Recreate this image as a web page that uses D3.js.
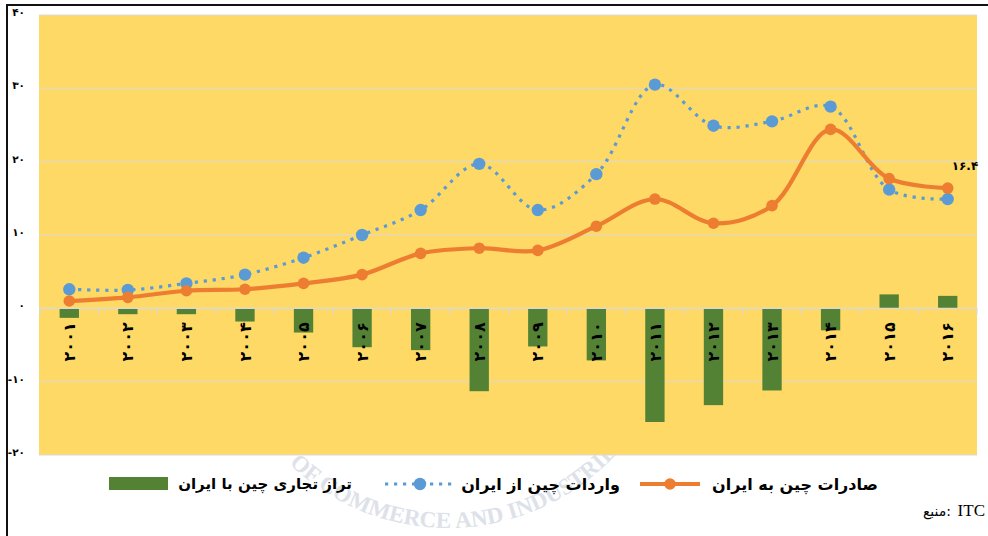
<!DOCTYPE html>
<html>
<head>
<meta charset="utf-8">
<script src="https://cdn.jsdelivr.net/npm/d3@7"></script>
<style>
  body { margin: 0; background: #fff; }
  svg { display: block; font-family: "DejaVu Sans", sans-serif; }
</style>
</head>
<body>
<svg id="chart" width="988" height="536"></svg>
<script>
// داده‌ها (میلیارد دلار)
const years = [2001, 2002, 2003, 2004, 2005, 2006, 2007, 2008, 2009, 2010, 2011, 2012, 2013, 2014, 2015, 2016];
const exportsToIran = [1.0, 1.5, 2.4, 2.6, 3.4, 4.6, 7.5, 8.2, 7.9, 11.2, 14.9, 11.6, 14.0, 24.4, 17.7, 16.4];
const importsFromIran = [2.6, 2.5, 3.4, 4.6, 6.9, 10.0, 13.4, 19.7, 13.4, 18.3, 30.5, 24.9, 25.5, 27.5, 16.2, 14.9];
const tradeBalance = [-1.3, -0.8, -0.8, -1.8, -3.3, -5.3, -5.7, -11.3, -5.2, -7.1, -15.5, -13.2, -11.2, -3.0, 1.9, 1.7];
const yTicks = [-20, -10, 0, 10, 20, 30, 40];
const seriesNames = ["صادرات چین به ایران", "واردات چین از ایران", "تراز تجاری چین با ایران"];
const lastLabel = "۱۶.۴";

// تبدیل ارقام به فارسی
const fa = s => String(s).replace(/\d/g, d => "۰۱۲۳۴۵۶۷۸۹"[d]);

const svg = d3.select("#chart");
const mLeft = 40, mRight = 977, mTop = 15, mBottom = 455;

// واترمارک کم‌رنگ پشت نمودار
const wp = d3.path();
wp.arc(448, 300, 228, Math.PI * 0.92, Math.PI * 0.08, true);
svg.append("path").attr("id", "wm").attr("d", wp.toString()).attr("fill", "none");
svg.append("text")
  .attr("fill", "#dde1e9")
  .attr("font-size", 23)
  .attr("font-weight", "bold")
  .attr("font-family", "Liberation Serif, serif")
  .append("textPath")
  .attr("href", "#wm")
  .attr("startOffset", 125)
  .text("OF COMMERCE AND INDUSTRIES");

// قاب
svg.append("line").attr("x1", 6).attr("x2", 988).attr("y1", 5).attr("y2", 5)
  .attr("stroke", "#111").attr("stroke-width", 2);
svg.append("line").attr("x1", 7).attr("x2", 7).attr("y1", 4).attr("y2", 536)
  .attr("stroke", "#111").attr("stroke-width", 2);

// مقیاس‌ها
const x = d3.scaleBand().domain(years).range([mLeft, mRight]);
const y = d3.scaleLinear().domain([-20, 40]).range([mBottom, mTop]);
const cx = d => x(d) + x.bandwidth() / 2;

// زمینه
svg.append("rect").attr("x", mLeft - 1).attr("y", mTop).attr("width", mRight - mLeft + 1)
  .attr("height", mBottom - mTop).attr("fill", "#FED966");

// خطوط شبکه
svg.append("g").selectAll("line").data(yTicks).join("line")
  .attr("x1", mLeft - 1).attr("x2", mRight)
  .attr("y1", d => y(d)).attr("y2", d => y(d))
  .attr("stroke", "#D9D9D9").attr("stroke-width", 1);

// برچسب محور عمودی
svg.append("g").selectAll("text").data(yTicks).join("text")
  .attr("x", 25).attr("y", d => y(d) + 1)
  .attr("text-anchor", "end").attr("font-size", 10.5).attr("font-weight", "bold")
  .attr("fill", "#000")
  .text(d => (d < 0 ? "-" : "") + fa(Math.abs(d)));

// ستون‌های تراز تجاری
const barW = x.bandwidth() * 0.33;
svg.append("g").selectAll("rect").data(years).join("rect")
  .attr("x", d => cx(d) - barW / 2)
  .attr("y", (d, i) => y(Math.max(0, tradeBalance[i])))
  .attr("width", barW)
  .attr("height", (d, i) => Math.abs(y(tradeBalance[i]) - y(0)))
  .attr("fill", "#548235");

// محور افقی و تیک‌ها
svg.append("line").attr("x1", mLeft).attr("x2", mRight).attr("y1", y(0)).attr("y2", y(0))
  .attr("stroke", "#D9D9D9").attr("stroke-width", 1.2);
svg.append("g").selectAll("line").data(years.concat(["end"])).join("line")
  .attr("x1", d => d === "end" ? mRight : x(d)).attr("x2", d => d === "end" ? mRight : x(d))
  .attr("y1", y(0)).attr("y2", y(0) + 6)
  .attr("stroke", "#D9D9D9").attr("stroke-width", 1.2);

// برچسب سال‌ها (عمودی)
svg.append("g").selectAll("text").data(years).join("text")
  .attr("transform", d => `translate(${cx(d)},${y(0) + 14}) rotate(-90)`)
  .attr("text-anchor", "end").attr("dy", "0.35em")
  .attr("font-size", 16).attr("font-weight", "bold").attr("fill", "#000")
  .text(d => fa(d));

// خط واردات (نقطه‌چین)
const line = d3.line().x((d, i) => cx(years[i])).y(d => y(d)).curve(d3.curveCatmullRom);
svg.append("path").datum(importsFromIran)
  .attr("d", line).attr("fill", "none")
  .attr("stroke", "#5B9BD5").attr("stroke-width", 3.2)
  .attr("stroke-dasharray", "3.2,5.8");
svg.append("g").selectAll("circle").data(importsFromIran).join("circle")
  .attr("cx", (d, i) => cx(years[i])).attr("cy", d => y(d)).attr("r", 6.2)
  .attr("fill", "#5B9BD5");

// خط صادرات
svg.append("path").datum(exportsToIran)
  .attr("d", line).attr("fill", "none")
  .attr("stroke", "#ED7D31").attr("stroke-width", 4.2).attr("stroke-linejoin", "round");
svg.append("g").selectAll("circle").data(exportsToIran).join("circle")
  .attr("cx", (d, i) => cx(years[i])).attr("cy", d => y(d)).attr("r", 5.8)
  .attr("fill", "#ED7D31");

// برچسب آخرین مقدار
svg.append("text")
  .attr("x", cx(years[15]) + 4).attr("y", y(exportsToIran[15]) - 18)
  .attr("font-size", 12).attr("font-weight", "bold").attr("fill", "#000")
  .text(lastLabel);

// راهنما
const ly = 484;
const legend = svg.append("g").attr("font-size", 16).attr("font-weight", "bold").attr("fill", "#000");
// صادرات
legend.append("line").attr("x1", 640).attr("x2", 700).attr("y1", ly).attr("y2", ly)
  .attr("stroke", "#ED7D31").attr("stroke-width", 4.2);
legend.append("circle").attr("cx", 670).attr("cy", ly).attr("r", 5.8).attr("fill", "#ED7D31");
legend.append("text").attr("x", 878).attr("y", ly).attr("dy", "0.35em").attr("text-anchor", "end").text(seriesNames[0]);
// واردات
legend.append("line").attr("x1", 385).attr("x2", 455).attr("y1", ly).attr("y2", ly)
  .attr("stroke", "#5B9BD5").attr("stroke-width", 3.2).attr("stroke-dasharray", "3.2,5.8");
legend.append("circle").attr("cx", 420).attr("cy", ly).attr("r", 6.2).attr("fill", "#5B9BD5");
legend.append("text").attr("x", 620).attr("y", ly).attr("dy", "0.35em").attr("text-anchor", "end").text(seriesNames[1]);
// تراز
legend.append("rect").attr("x", 109).attr("y", ly - 7).attr("width", 59).attr("height", 13).attr("fill", "#548235");
legend.append("text").attr("x", 352).attr("y", ly).attr("dy", "0.35em").attr("text-anchor", "end")
  .attr("font-size", 15).text(seriesNames[2]);

// منبع
svg.append("text").attr("x", 985).attr("y", 516).attr("text-anchor", "end")
  .attr("font-size", 17).attr("font-family", "Liberation Serif, serif").attr("fill", "#000")
  .text("ITC");
svg.append("text").attr("x", 951).attr("y", 516).attr("text-anchor", "end")
  .attr("direction", "ltr").attr("unicode-bidi", "embed")
  .attr("font-size", 14).attr("fill", "#000")
  .text("\u200Eمنبع:\u200E");
</script>
</body>
</html>
